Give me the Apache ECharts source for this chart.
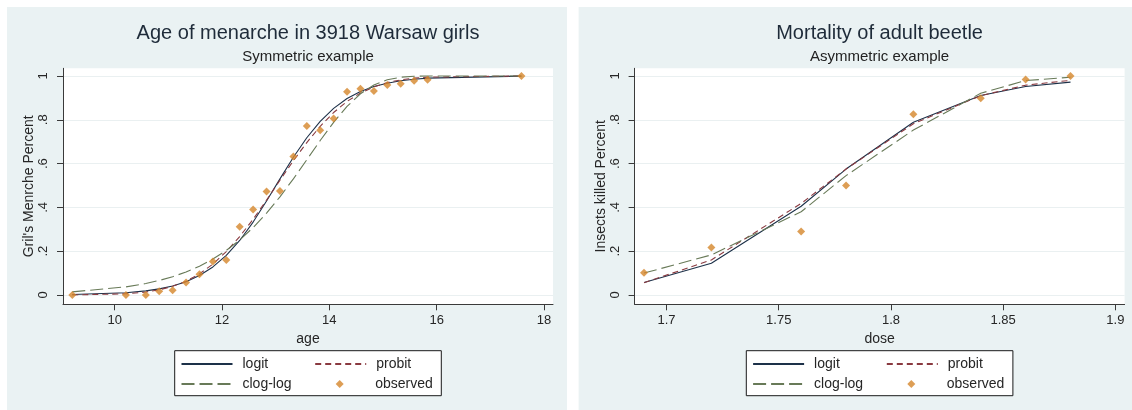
<!DOCTYPE html>
<html>
<head>
<meta charset="utf-8">
<script src="https://cdn.jsdelivr.net/npm/echarts@6/dist/echarts.min.js"></script>
<style>
  html, body { margin: 0; padding: 0; background: #ffffff; }
  #chart { width: 1132px; height: 410px; }
</style>
</head>
<body>
<div id="chart"></div>
<script>
// ---- Age of menarche, 3918 Warsaw girls ----
const menarcheAge = [9.21, 10.21, 10.58, 10.83, 11.08, 11.33, 11.58, 11.83, 12.08, 12.33, 12.58, 12.83,
  13.08, 13.33, 13.58, 13.83, 14.08, 14.33, 14.58, 14.83, 15.08, 15.33, 15.58, 15.83, 17.58];
const menarcheObserved = [0, 0, 0, 0.0167, 0.0222, 0.0568, 0.0952, 0.1532, 0.16, 0.3118, 0.39, 0.4722,
  0.4747, 0.6321, 0.7714, 0.7521, 0.8061, 0.9278, 0.9417, 0.9314, 0.959, 0.964, 0.9787, 0.9825, 1];
const menarcheLogit = [0.0020, 0.0103, 0.0187, 0.0279, 0.0413, 0.0609, 0.0889, 0.128, 0.181, 0.249, 0.333, 0.429,
  0.530, 0.629, 0.718, 0.793, 0.852, 0.897, 0.929, 0.952, 0.967, 0.978, 0.985, 0.990, 0.9994];
const menarcheProbit = [0.0003, 0.0054, 0.0135, 0.0236, 0.0395, 0.063, 0.0963, 0.141, 0.198, 0.267, 0.346, 0.433,
  0.524, 0.613, 0.696, 0.770, 0.833, 0.884, 0.922, 0.950, 0.970, 0.982, 0.990, 0.9947, 1.0];
const menarcheCloglog = [0.0144, 0.0371, 0.0525, 0.0663, 0.0835, 0.1049, 0.1314, 0.164, 0.2036, 0.2513, 0.3078, 0.3736,
  0.4482, 0.5304, 0.6174, 0.7052, 0.7883, 0.8611, 0.9187, 0.9588, 0.9827, 0.9942, 0.9986, 0.9998, 1.0];

// ---- Mortality of adult beetle ----
const beetleDose = [1.69, 1.72, 1.76, 1.78, 1.81, 1.84, 1.86, 1.88];
const beetleObserved = [0.102, 0.217, 0.290, 0.500, 0.825, 0.898, 0.984, 1.0];
const beetleLogit = [0.057, 0.145, 0.405, 0.575, 0.789, 0.911, 0.952, 0.972];
const beetleProbit = [0.056, 0.160, 0.418, 0.575, 0.782, 0.910, 0.958, 0.980];
const beetleCloglog = [0.100, 0.183, 0.380, 0.545, 0.753, 0.921, 0.979, 0.994];

// ---- Axis ticks ----
const yTicks = [0, 0.2, 0.4, 0.6, 0.8, 1];
const yTickLabels = ['0', '.2', '.4', '.6', '.8', '1'];
const menarcheXTicks = [10, 12, 14, 16, 18];
const menarcheXLabels = ['10', '12', '14', '16', '18'];
const beetleXTicks = [1.7, 1.75, 1.8, 1.85, 1.9];
const beetleXLabels = ['1.7', '1.75', '1.8', '1.85', '1.9'];

const FONT = "'Liberation Sans', Arial, sans-serif";
const TEXT = '#262626';
const AXIS = '#3a3a3a';
const C_LOGIT = '#1d3149';
const C_PROBIT = '#8a3a40';
const C_CLOGLOG = '#687a58';
const C_OBS = '#d4862a';

// layout of each panel (pixels)
const panels = [
  { bgX: 7, plotX: 63, title: 'Age of menarche in 3918 Warsaw girls', sub: 'Symmetric example',
    xName: 'age', yName: "Gril's Menrche Percent", xMin: 9.037, xMax: 18.168,
    xTicks: menarcheXTicks, xLabels: menarcheXLabels,
    x: menarcheAge, obs: menarcheObserved, logit: menarcheLogit, probit: menarcheProbit, cloglog: menarcheCloglog },
  { bgX: 578.6, plotX: 634.6, title: 'Mortality of adult beetle', sub: 'Asymmetric example',
    xName: 'dose', yName: 'Insects killed Percent', xMin: 1.6858, xMax: 1.9041,
    xTicks: beetleXTicks, xLabels: beetleXLabels,
    x: beetleDose, obs: beetleObserved, logit: beetleLogit, probit: beetleProbit, cloglog: beetleCloglog }
];
const PLOT_W = 490;
const PLOT_TOP = 68.3;
const PLOT_H = 236;
const LEG_OFF = 111.7;   // legend box left, relative to plot left
const LEG_W = 266.6;
const KEY_W = 51;
const DIAMOND = 8;

function pairs(xs, ys) { return xs.map((x, i) => [x, ys[i]]); }
function labelFor(ticks, labels) {
  return (v) => {
    const i = ticks.findIndex(t => Math.abs(t - v) < 1e-9);
    return i >= 0 ? labels[i] : '';
  };
}

const grids = [], xAxes = [], yAxes = [], series = [], titles = [], legends = [], graphics = [];

panels.forEach((p, k) => {
  graphics.push({
    type: 'rect', z: -10, silent: true,
    shape: { x: p.bgX, y: 7, width: 560, height: 403 },
    style: { fill: '#eaf2f3' }
  });
  const legX = p.plotX + LEG_OFF;
  graphics.push({
    type: 'rect', z: 1, silent: true,
    shape: { x: legX, y: 350.7, width: LEG_W, height: 45 },
    style: { fill: '#ffffff', stroke: '#1a1a1a', lineWidth: 1 }
  });

  grids.push({
    left: p.plotX, top: PLOT_TOP, width: PLOT_W, height: PLOT_H,
    show: true, backgroundColor: '#ffffff', borderWidth: 0
  });

  titles.push({
    text: p.title, left: p.plotX + PLOT_W / 2, top: 21, textAlign: 'center', padding: 0,
    textStyle: { fontFamily: FONT, fontSize: 20, fontWeight: 'normal', color: '#1e2b39', lineHeight: 24 }
  });
  titles.push({
    text: p.sub, left: p.plotX + PLOT_W / 2, top: 48, textAlign: 'center', padding: 0,
    textStyle: { fontFamily: FONT, fontSize: 15, fontWeight: 'normal', color: '#222222', lineHeight: 18 }
  });

  xAxes.push({
    type: 'value', gridIndex: k, min: p.xMin, max: p.xMax,
    name: p.xName, nameLocation: 'middle', nameGap: 21,
    nameTextStyle: { fontFamily: FONT, fontSize: 14, color: TEXT },
    axisLine: { show: true, onZero: false, lineStyle: { color: AXIS, width: 1 } },
    axisTick: { show: true, length: 6, customValues: p.xTicks, lineStyle: { color: AXIS } },
    axisLabel: { customValues: p.xTicks, formatter: labelFor(p.xTicks, p.xLabels), margin: 10,
      fontFamily: FONT, fontSize: 13, color: TEXT, showMinLabel: true, showMaxLabel: true },
    splitLine: { show: false }
  });
  yAxes.push({
    type: 'value', gridIndex: k, min: -0.0425, max: 1.035,
    name: p.yName, nameLocation: 'middle', nameGap: 26,
    nameTextStyle: { fontFamily: FONT, fontSize: 14, color: TEXT },
    axisLine: { show: true, onZero: false, lineStyle: { color: AXIS, width: 1 } },
    axisTick: { show: true, length: 6, customValues: yTicks, lineStyle: { color: AXIS } },
    axisLabel: { customValues: yTicks, formatter: labelFor(yTicks, yTickLabels), rotate: 90, margin: 13,
      fontFamily: FONT, fontSize: 13, color: TEXT },
    splitLine: { show: true, customValues: yTicks, lineStyle: { color: '#eaf0f1', width: 1 } }
  });

  const common = { xAxisIndex: k, yAxisIndex: k, symbol: 'none', animation: false, smooth: false };
  series.push(Object.assign({ type: 'line', name: 'logit', data: pairs(p.x, p.logit), z: 3,
    lineStyle: { color: C_LOGIT, width: 1.1, type: 'solid' }, itemStyle: { color: C_LOGIT } }, common));
  series.push(Object.assign({ type: 'line', name: 'probit', data: pairs(p.x, p.probit), z: 3,
    lineStyle: { color: C_PROBIT, width: 1.1, type: [6, 4] }, itemStyle: { color: C_PROBIT } }, common));
  series.push(Object.assign({ type: 'line', name: 'clog-log', data: pairs(p.x, p.cloglog), z: 3,
    lineStyle: { color: C_CLOGLOG, width: 1.1, type: [13, 5] }, itemStyle: { color: C_CLOGLOG } }, common));
  series.push({
    type: 'scatter', name: 'observed', xAxisIndex: k, yAxisIndex: k, z: 4, animation: false,
    symbol: 'diamond', symbolSize: DIAMOND, data: pairs(p.x, p.obs), itemStyle: { color: C_OBS }
  });

  // legend: two columns inside the white box; line keys carry no marker
  const textStyle = { fontFamily: FONT, fontSize: 14, color: TEXT, lineHeight: 16, padding: [0, 0, 0, 5] };
  const legendCommon = {
    orient: 'vertical', top: 356, padding: 0, itemGap: 4, itemWidth: KEY_W, itemHeight: 8,
    selectedMode: false, z: 5, textStyle: textStyle
  };
  const noMarker = { opacity: 0 };
  legends.push(Object.assign({}, legendCommon, { left: legX + 5.8,
    data: [{ name: 'logit', itemStyle: noMarker }, { name: 'clog-log', itemStyle: noMarker }] }));
  legends.push(Object.assign({}, legendCommon, { left: legX + 139.5,
    data: [{ name: 'probit', itemStyle: noMarker }] }));
  legends.push(Object.assign({}, legendCommon, {
    left: legX + 139.5 + (KEY_W - DIAMOND) / 2, top: 376, itemWidth: DIAMOND, itemHeight: DIAMOND,
    textStyle: Object.assign({}, textStyle, { padding: [0, 0, 0, 5 + (KEY_W - DIAMOND) / 2] }),
    data: [{ name: 'observed', icon: 'diamond' }] }));
});

const chart = echarts.init(document.getElementById('chart'), null, { renderer: 'canvas' });
chart.setOption({
  animation: false,
  backgroundColor: '#ffffff',
  textStyle: { fontFamily: FONT },
  title: titles,
  legend: legends,
  grid: grids,
  xAxis: xAxes,
  yAxis: yAxes,
  series: series,
  graphic: graphics
});
</script>
</body>
</html>
